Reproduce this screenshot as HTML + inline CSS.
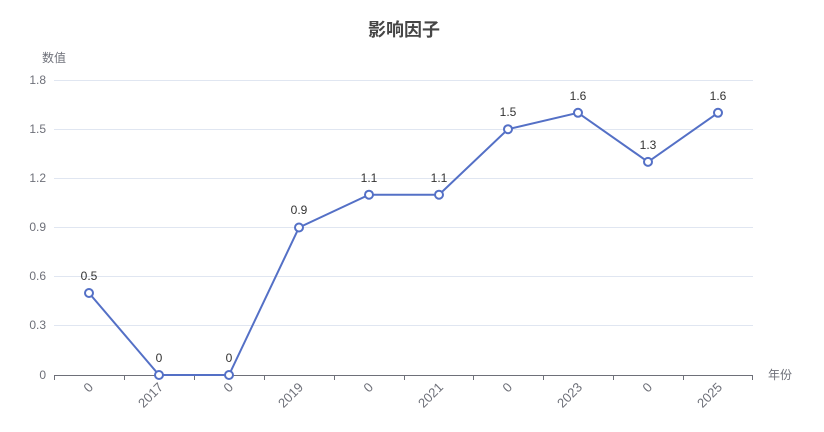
<!DOCTYPE html>
<html><head><meta charset="utf-8"><style>html,body{margin:0;padding:0;background:#fff}svg{display:block}</style></head>
<body>
<svg width="824" height="432" xmlns="http://www.w3.org/2000/svg" font-family="'Liberation Sans','Noto Sans CJK SC',sans-serif">
<text x="404" y="36" text-anchor="middle" font-size="18" font-weight="bold" fill="#464646">影响因子</text>
<text x="54" y="62" text-anchor="middle" font-size="12" fill="#6E7079">数值</text>
<g stroke="#E0E6F1" stroke-width="1">
<line x1="54" x2="753" y1="80.5" y2="80.5"/><line x1="54" x2="753" y1="129.5" y2="129.5"/><line x1="54" x2="753" y1="178.5" y2="178.5"/><line x1="54" x2="753" y1="227.5" y2="227.5"/><line x1="54" x2="753" y1="276.5" y2="276.5"/><line x1="54" x2="753" y1="325.5" y2="325.5"/>
</g>
<g font-size="12" fill="#6E7079" text-anchor="end">
<text x="46" y="84">1.8</text><text x="46" y="133">1.5</text><text x="46" y="182">1.2</text><text x="46" y="231">0.9</text><text x="46" y="280">0.6</text><text x="46" y="329">0.3</text><text x="46" y="379">0</text>
</g>
<line x1="54" x2="753" y1="375.5" y2="375.5" stroke="#6E7079"/>
<g stroke="#6E7079">
<line x1="54.5" x2="54.5" y1="375" y2="380"/><line x1="124.5" x2="124.5" y1="375" y2="380"/><line x1="194.5" x2="194.5" y1="375" y2="380"/><line x1="264.5" x2="264.5" y1="375" y2="380"/><line x1="334.5" x2="334.5" y1="375" y2="380"/><line x1="404.5" x2="404.5" y1="375" y2="380"/><line x1="473.5" x2="473.5" y1="375" y2="380"/><line x1="543.5" x2="543.5" y1="375" y2="380"/><line x1="613.5" x2="613.5" y1="375" y2="380"/><line x1="683.5" x2="683.5" y1="375" y2="380"/><line x1="752.5" x2="752.5" y1="375" y2="380"/>
</g>
<g font-size="13" fill="#6E7079" text-anchor="end">
<text transform="translate(94,388) rotate(-45)">0</text>
<text transform="translate(164,388) rotate(-45)">2017</text>
<text transform="translate(234,388) rotate(-45)">0</text>
<text transform="translate(304,388) rotate(-45)">2019</text>
<text transform="translate(374,388) rotate(-45)">0</text>
<text transform="translate(444,388) rotate(-45)">2021</text>
<text transform="translate(513,388) rotate(-45)">0</text>
<text transform="translate(583,388) rotate(-45)">2023</text>
<text transform="translate(653,388) rotate(-45)">0</text>
<text transform="translate(723,388) rotate(-45)">2025</text>
</g>
<text x="768" y="379" font-size="12" fill="#6E7079">年份</text>
<polyline fill="none" stroke="#5470C6" stroke-width="2" points="89,293 159,375 229,375 299,227.5 369,194.7 439,194.7 508,129.2 578,112.8 648,161.9 718,112.8"/>
<g fill="#fff" stroke="#5470C6" stroke-width="2">
<circle cx="89" cy="293" r="4"/><circle cx="159" cy="375" r="4"/><circle cx="229" cy="375" r="4"/><circle cx="299" cy="227.5" r="4"/><circle cx="369" cy="194.7" r="4"/><circle cx="439" cy="194.7" r="4"/><circle cx="508" cy="129.2" r="4"/><circle cx="578" cy="112.8" r="4"/><circle cx="648" cy="161.9" r="4"/><circle cx="718" cy="112.8" r="4"/>
</g>
<g font-size="12" fill="#333" text-anchor="middle">
<text x="89" y="280">0.5</text><text x="159" y="362">0</text><text x="229" y="362">0</text><text x="299" y="214">0.9</text><text x="369" y="182">1.1</text><text x="439" y="182">1.1</text><text x="508" y="116">1.5</text><text x="578" y="100">1.6</text><text x="648" y="149">1.3</text><text x="718" y="100">1.6</text>
</g>
</svg>
</body></html>
